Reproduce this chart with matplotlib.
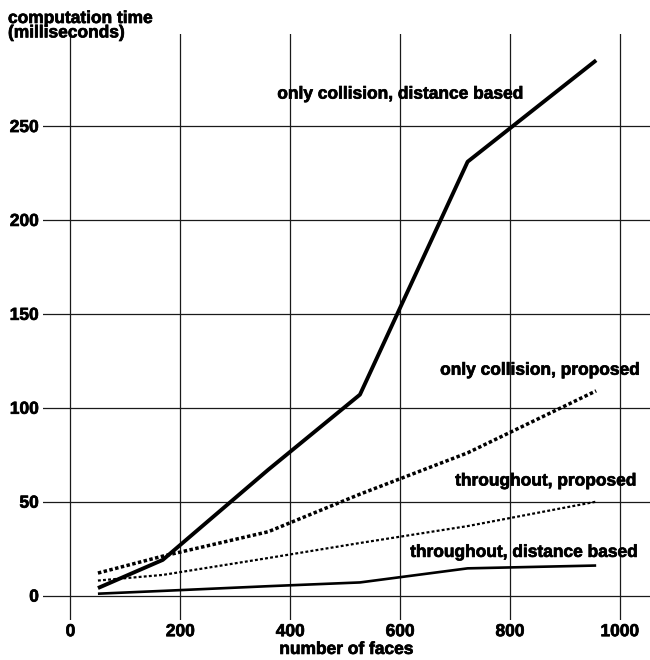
import matplotlib.pyplot as plt
import matplotlib.patheffects as pe

plt.rcParams['font.family'] = ['Liberation Sans', 'DejaVu Sans']
plt.rcParams['font.weight'] = 'bold'

faces = [50, 168, 360, 527, 723, 957]
coll_dist = [4, 19, 67, 107, 231, 285]
coll_prop = [12, 21, 34, 54, 76, 109]
thru_prop = [8, 11, 20, 28, 37, 50]
thru_dist = [1, 2.5, 5, 7, 14.5, 16]

xticks = [0, 200, 400, 600, 800, 1000]
yticks = [0, 50, 100, 150, 200, 250]

fs = 12.5
heavy = [pe.withStroke(linewidth=0.5, foreground='black')]

fig = plt.figure(figsize=(6.5, 6.6), dpi=100)
ax = fig.add_axes([43 / 650, 40 / 660, 607 / 650, 586 / 660])

ax.set_xlim(-50, 1055)
ax.set_ylim(-13, 299)

for s in ax.spines.values():
    s.set_visible(False)

ax.set_xticks(xticks)
ax.set_yticks(yticks)
ax.grid(True, color='#1a1a1a', lw=0.9)
ax.set_axisbelow(True)
ax.tick_params(length=0, labelsize=fs, pad=3)
for lab in ax.get_xticklabels() + ax.get_yticklabels():
    lab.set_fontweight('bold')
    lab.set_path_effects(heavy)

ax.plot(faces, coll_dist, color='black', lw=2.8, solid_capstyle='butt')
ax.plot(faces, coll_prop, color='black', lw=2.5, linestyle=(0, (1, 0.7)))
ax.plot(faces, thru_prop, color='black', lw=1.6, linestyle=(0, (1.3, 1.0)))
ax.plot(faces, thru_dist, color='black', lw=1.9, solid_capstyle='butt')

lbl = dict(fontsize=fs, fontweight='bold', va='center', path_effects=heavy)
ax.text(601, 267, 'only collision, distance based', ha='center', **lbl)
ax.text(1037, 120, 'only collision, proposed', ha='right', **lbl)
ax.text(1032, 61, 'throughout, proposed', ha='right', **lbl)
ax.text(1035, 23, 'throughout, distance based', ha='right', **lbl)

fig.text(8 / 650, 1 - 11 / 660, 'computation time\n(milliseconds)',
         ha='left', va='top', fontsize=fs, fontweight='bold', linespacing=0.95,
         path_effects=heavy)
ax.set_xlabel('number of faces', fontsize=fs, fontweight='bold', labelpad=2,
              path_effects=heavy)

fig.savefig('out.png', dpi=100)
